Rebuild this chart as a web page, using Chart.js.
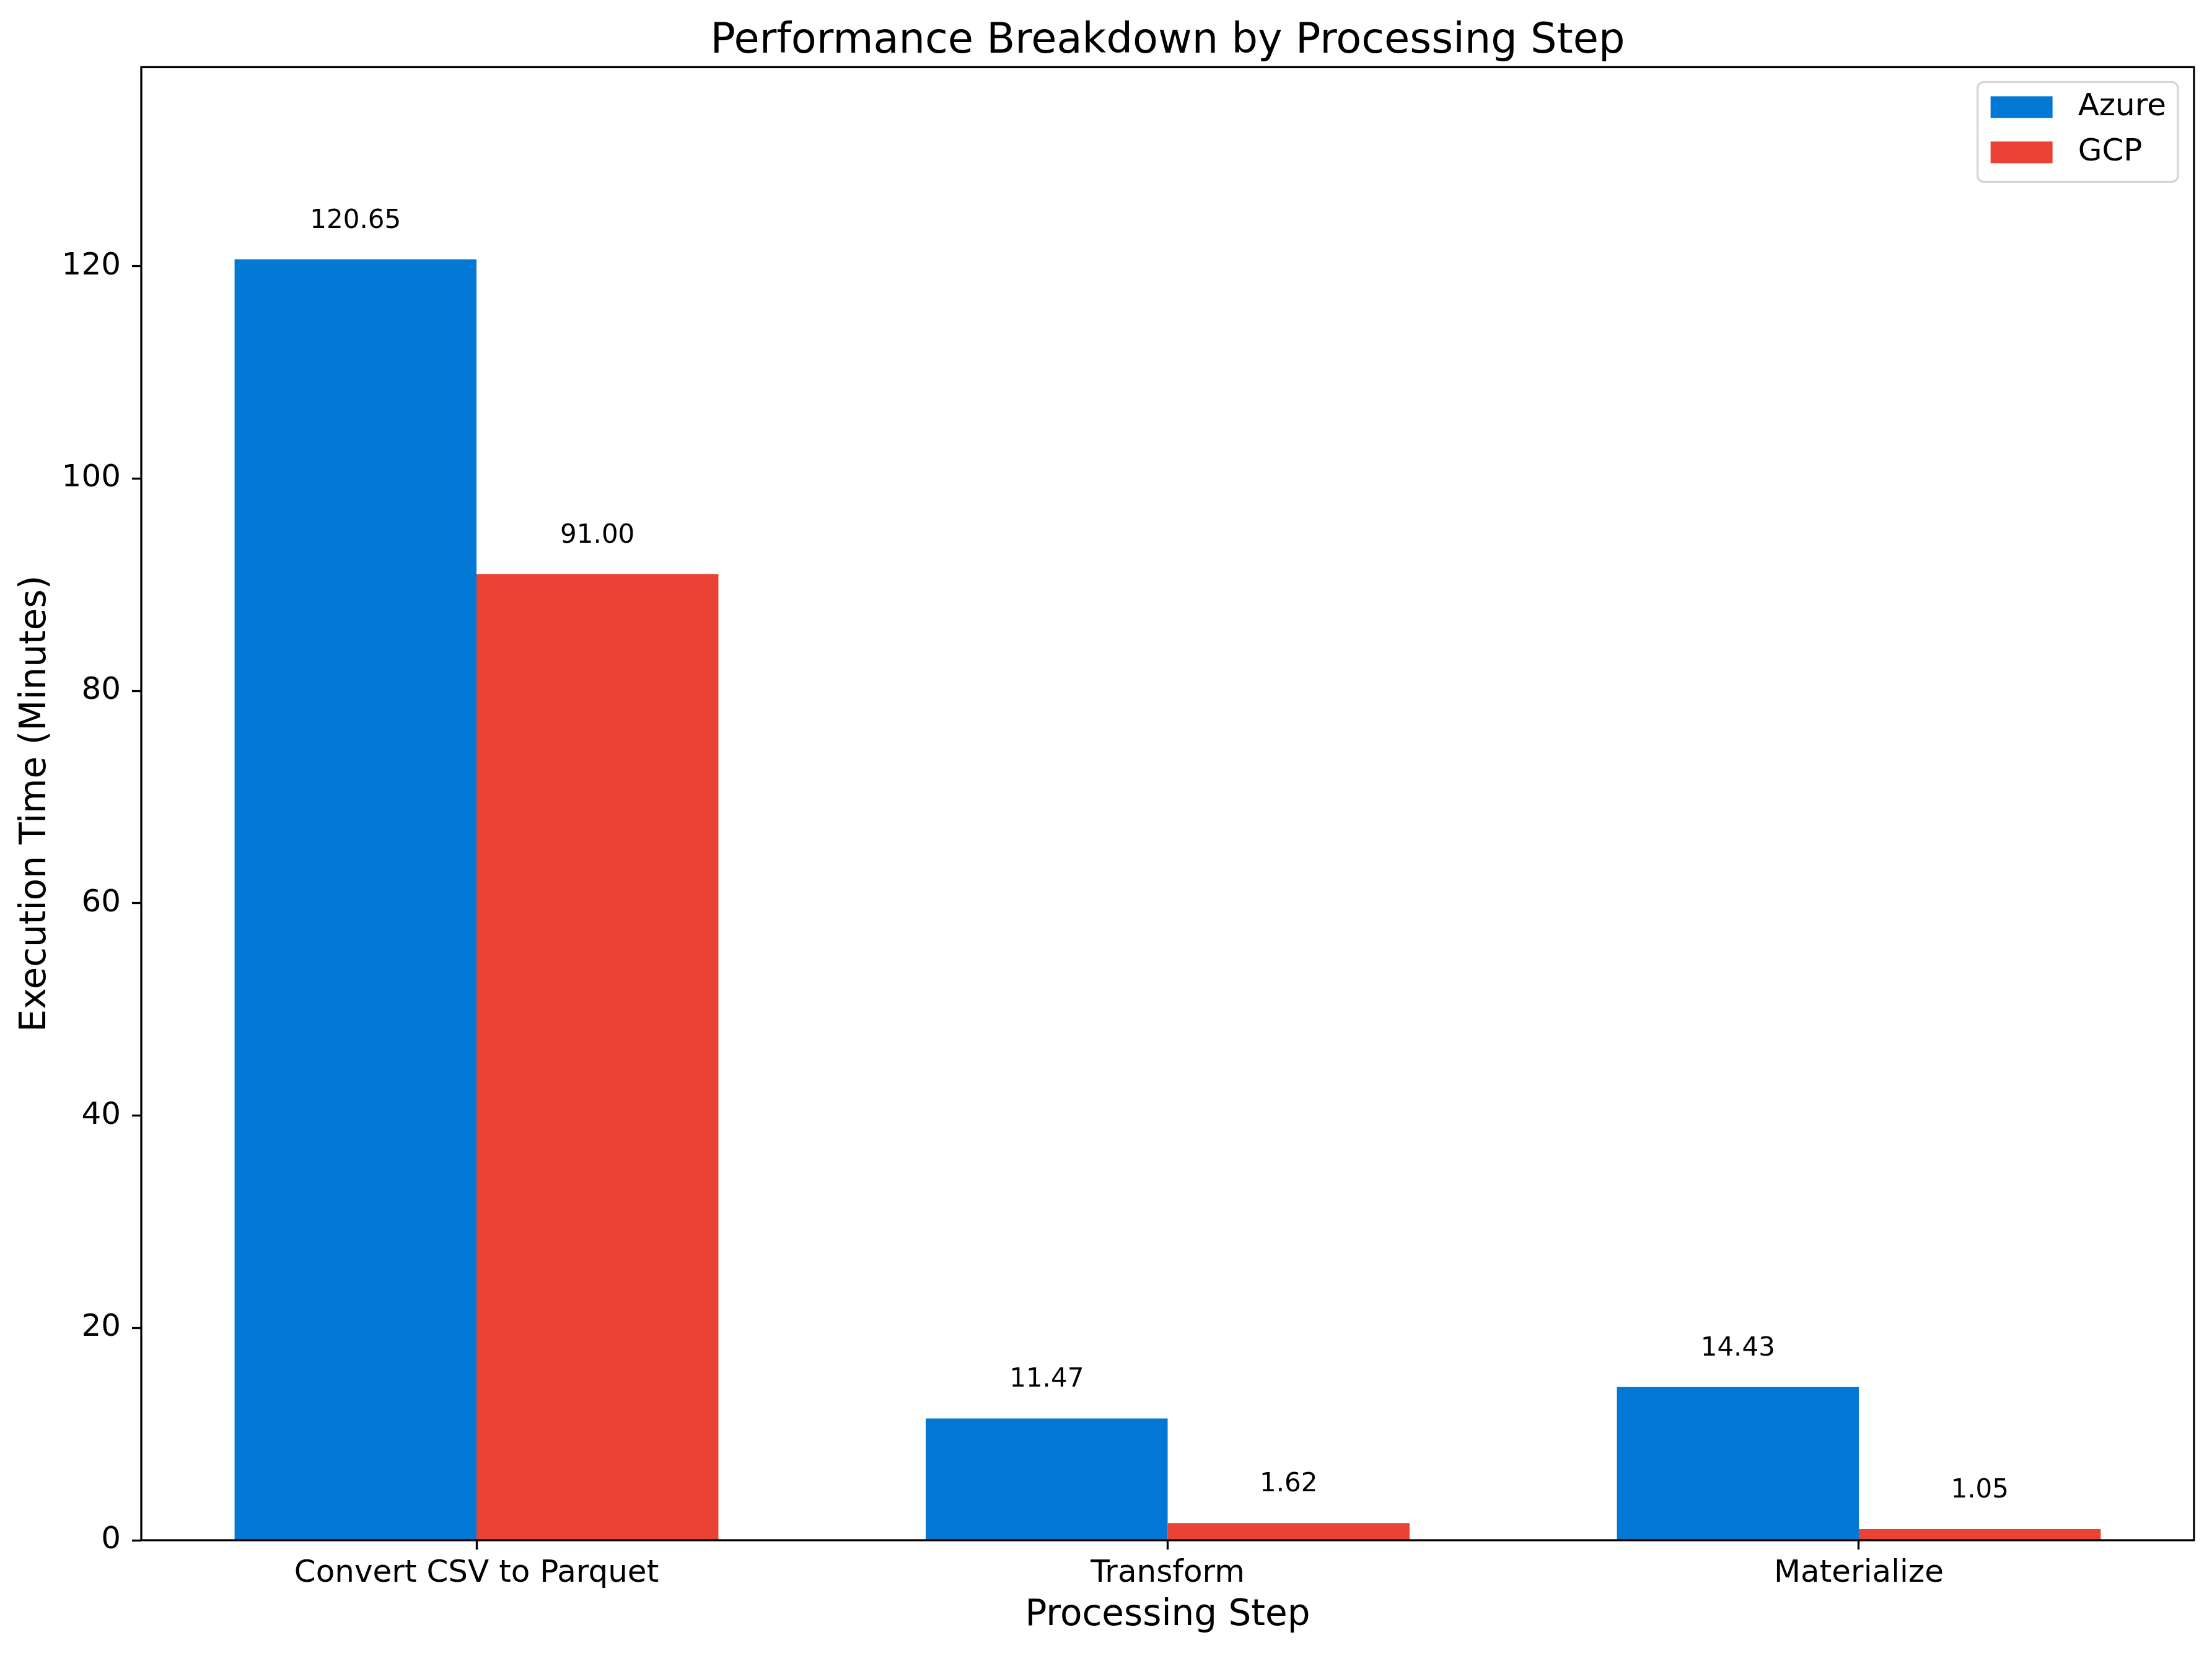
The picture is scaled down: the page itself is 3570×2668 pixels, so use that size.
<!DOCTYPE html>
<html>
<head>
<meta charset="utf-8">
<title>Performance Breakdown by Processing Step</title>
<script src="https://cdn.jsdelivr.net/npm/chart.js@4.4.1/dist/chart.umd.min.js"></script>
<style>
html, body { margin: 0; padding: 0; background: #ffffff; }
#wrap { width: 3570px; height: 2668px; position: relative; }
</style>
</head>
<body>
<div id="wrap"><canvas id="mainChart"></canvas></div>
<script>
/* DATA */

const steps = ["Convert CSV to Parquet", "Transform", "Materialize"];

const azureMinutes = [120.65, 11.47, 14.43];

const gcpMinutes = [91.00, 1.62, 1.05];

const yTicks = [0, 20, 40, 60, 80, 100, 120];

const seriesNames = ["Azure", "GCP"];

const seriesColors = ["#0078D4", "#EA4335"];

/* y limit like matplotlib: max * 1.15 */
const yMax = Math.max(...azureMinutes, ...gcpMinutes) * 1.15;

const FONT = "'DejaVu Sans', 'Liberation Sans', sans-serif";

/* VALUE LABELS ABOVE BARS */

const valueLabels = {
  id: "valueLabels",
  afterDatasetsDraw(chart) {
    const ctx = chart.ctx;
    ctx.save();
    ctx.font = "42px " + FONT;
    ctx.fillStyle = "#000";
    ctx.textAlign = "center";
    ctx.textBaseline = "alphabetic";
    chart.data.datasets.forEach((ds, di) => {
      const meta = chart.getDatasetMeta(di);
      meta.data.forEach((bar, i) => {
        ctx.fillText(ds.data[i].y.toFixed(2), bar.x, bar.y - 51);
      });
    });
    ctx.restore();
  }
};

/* AXES FRAME (all four spines) */

const frame = {
  id: "frame",
  afterDatasetsDraw(chart) {
    const a = chart.chartArea;
    const ctx = chart.ctx;
    ctx.save();
    ctx.strokeStyle = "#000";
    ctx.lineWidth = 3.3;
    ctx.strokeRect(a.left, a.top, a.right - a.left, a.bottom - a.top);
    ctx.restore();
  }
};

/* LEGEND INSIDE THE AXES, UPPER RIGHT */

const boxLegend = {
  id: "boxLegend",
  afterDraw(chart) {
    const a = chart.chartArea;
    const ctx = chart.ctx;
    ctx.save();
    ctx.font = "50px " + FONT;
    const textW = Math.max(...seriesNames.map(n => ctx.measureText(n).width));
    const w = 21 + 100 + 41 + textW + 19;
    const h = 161;
    const x = a.right - 26 - w;
    const y = a.top + 24;

    ctx.beginPath();
    ctx.roundRect(x, y, w, h, 10);
    ctx.fillStyle = "rgba(255,255,255,0.8)";
    ctx.fill();
    ctx.lineWidth = 3.3;
    ctx.strokeStyle = "rgba(204,204,204,0.8)";
    ctx.stroke();

    const rows = [40.5, 113.5];
    chart.data.datasets.forEach((ds, i) => {
      const cy = y + rows[i];
      ctx.fillStyle = ds.backgroundColor;
      ctx.fillRect(x + 21, cy - 17.5, 100, 35);
      ctx.fillStyle = "#000";
      ctx.textAlign = "left";
      ctx.textBaseline = "middle";
      ctx.fillText(ds.label, x + 162, cy);
    });
    ctx.restore();
  }
};

/* CHART SETUP */

const ctx = document.getElementById("mainChart");

const chart = new Chart(ctx, {

  type: "bar",

  data: {
    datasets: [
      {
        label: seriesNames[0],
        data: steps.map((s, i) => ({ x: i, y: azureMinutes[i] })),
        backgroundColor: seriesColors[0],
        borderWidth: 0
      },
      {
        label: seriesNames[1],
        data: steps.map((s, i) => ({ x: i, y: gcpMinutes[i] })),
        backgroundColor: seriesColors[1],
        borderWidth: 0
      }
    ]
  },

  options: {
    responsive: true,
    maintainAspectRatio: false,
    animation: false,
    categoryPercentage: 0.7,
    barPercentage: 1.0,
    layout: {
      padding: { left: 0, right: 29, top: 0, bottom: 0 }
    },
    plugins: {
      legend: { display: false },
      tooltip: { enabled: false },
      title: {
        display: true,
        text: "Performance Breakdown by Processing Step",
        fullSize: false,
        color: "#000",
        font: { family: FONT, size: 67, weight: "normal" },
        padding: { top: 27, bottom: 1 }
      }
    },
    scales: {
      x: {
        type: "linear",
        min: -0.485,
        max: 2.485,
        offset: false,
        afterFit(scale) { scale.height = 182; },
        afterBuildTicks(scale) {
          scale.ticks = steps.map((s, i) => ({ value: i }));
        },
        border: { display: false },
        grid: {
          display: true,
          drawOnChartArea: false,
          drawTicks: true,
          offset: false,
          tickLength: 15,
          tickWidth: 3.3,
          tickColor: "#000"
        },
        ticks: {
          color: "#000",
          padding: 9,
          maxRotation: 0,
          autoSkip: false,
          font: { family: FONT, size: 50 },
          callback: (v, i) => steps[i]
        },
        title: {
          display: true,
          text: "Processing Step",
          color: "#000",
          font: { family: FONT, size: 58 },
          padding: { top: 0, bottom: 25 }
        }
      },
      y: {
        type: "linear",
        min: 0,
        max: yMax,
        afterFit(scale) { scale.width = 228; },
        afterBuildTicks(scale) {
          scale.ticks = yTicks.map(v => ({ value: v }));
        },
        border: { display: false },
        grid: {
          display: true,
          drawOnChartArea: false,
          drawTicks: true,
          tickLength: 15,
          tickWidth: 3.3,
          tickColor: "#000"
        },
        ticks: {
          color: "#000",
          padding: 18,
          font: { family: FONT, size: 50 },
          callback: v => String(v)
        },
        title: {
          display: true,
          text: "Execution Time (Minutes)",
          color: "#000",
          font: { family: FONT, size: 58 },
          padding: { top: 23, bottom: 0 }
        }
      }
    }
  },

  plugins: [frame, valueLabels, boxLegend]

});
</script>
</body>
</html>
